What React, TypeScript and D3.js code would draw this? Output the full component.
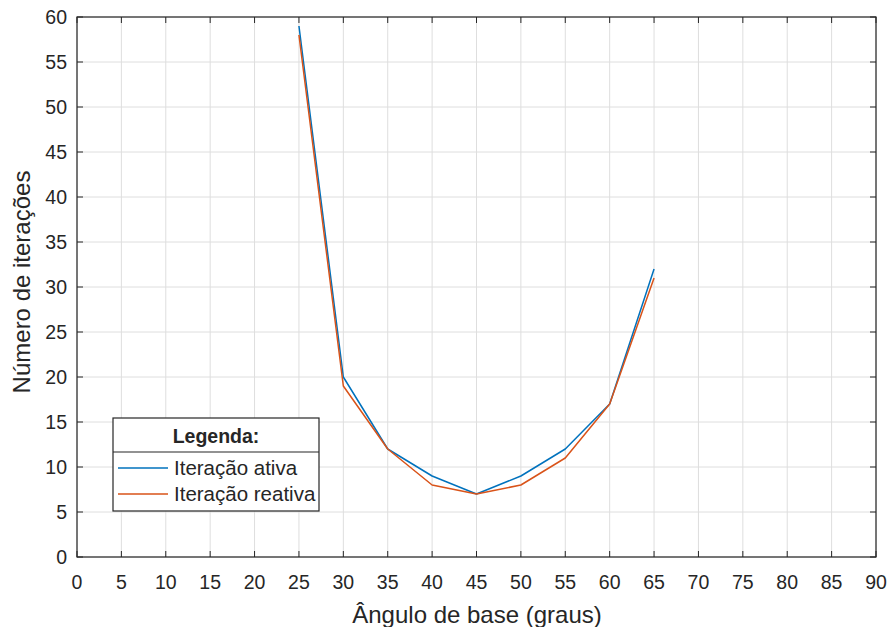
import { useMemo } from 'react';
import * as d3 from 'd3';

const angles = [25, 30, 35, 40, 45, 50, 55, 60, 65];
const activeIterations = [59, 20, 12, 9, 7, 9, 12, 17, 32];
const reactiveIterations = [58, 19, 12, 8, 7, 8, 11, 17, 31];
const xTicks = d3.range(0, 91, 5);
const yTicks = d3.range(0, 61, 5);

const WIDTH = 889;
const HEIGHT = 627;
const M = { left: 77, right: 13, top: 17, bottom: 70 };
const FONT = '"Liberation Sans", Arial, Helvetica, sans-serif';
const AXIS = '#262626';
const GRID = '#dedede';
const BLUE = '#0072BD';
const ORANGE = '#D95319';

export default function App() {
  const x = useMemo(
    () => d3.scaleLinear().domain([0, 90]).range([M.left, WIDTH - M.right]),
    [],
  );
  const y = useMemo(
    () => d3.scaleLinear().domain([0, 60]).range([HEIGHT - M.bottom, M.top]),
    [],
  );

  const line = d3
    .line<number>()
    .x((_, i) => x(angles[i]))
    .y((v) => y(v));

  const [x0, x1] = x.range();
  const [y0, y1] = y.range();
  const tick = 6;

  const series = [
    { name: 'Iteração ativa', values: activeIterations, color: BLUE },
    { name: 'Iteração reativa', values: reactiveIterations, color: ORANGE },
  ];

  // legend box
  const lgX = 113;
  const lgY = 418;
  const lgW = 206;
  const lgH = 93;
  const lgSep = 34;

  return (
    <svg
      width={WIDTH}
      height={HEIGHT}
      style={{ position: 'absolute', left: 0, top: 0, background: '#fff' }}
      fontFamily={FONT}
    >
      <rect x={x0} y={y1} width={x1 - x0} height={y0 - y1} fill="#fff" />
      {/* grid */}
      {xTicks.map((t) => (
        <line key={`gx${t}`} x1={x(t)} x2={x(t)} y1={y0} y2={y1} stroke={GRID} strokeWidth={1} />
      ))}
      {yTicks.map((t) => (
        <line key={`gy${t}`} x1={x0} x2={x1} y1={y(t)} y2={y(t)} stroke={GRID} strokeWidth={1} />
      ))}

      {/* series */}
      {series.map((s) => (
        <path
          key={s.name}
          d={line(s.values) ?? ''}
          fill="none"
          stroke={s.color}
          strokeWidth={1.5}
          strokeLinejoin="round"
        />
      ))}

      {/* ticks (box on, inward) */}
      {xTicks.map((t) => (
        <g key={`tx${t}`} stroke={AXIS}>
          <line x1={x(t)} x2={x(t)} y1={y0} y2={y0 - tick} />
          <line x1={x(t)} x2={x(t)} y1={y1} y2={y1 + tick} />
        </g>
      ))}
      {yTicks.map((t) => (
        <g key={`ty${t}`} stroke={AXIS}>
          <line x1={x0} x2={x0 + tick} y1={y(t)} y2={y(t)} />
          <line x1={x1} x2={x1 - tick} y1={y(t)} y2={y(t)} />
        </g>
      ))}
      <rect x={x0} y={y1} width={x1 - x0} height={y0 - y1} fill="none" stroke={AXIS} strokeWidth={1.2} />

      {/* tick labels */}
      {xTicks.map((t) => (
        <text key={`lx${t}`} x={x(t)} y={y0 + 32} textAnchor="middle" fontSize={19.5} fill={AXIS}>
          {t}
        </text>
      ))}
      {yTicks.map((t) => (
        <text key={`ly${t}`} x={x0 - 10} y={y(t) + 7} textAnchor="end" fontSize={19.5} fill={AXIS}>
          {t}
        </text>
      ))}

      {/* axis titles */}
      <text x={(x0 + x1) / 2 + 0.5} y={y0 + 66} textAnchor="middle" fontSize={24} fill={AXIS}>
        Ângulo de base (graus)
      </text>
      <text
        transform={`translate(${30},${(y0 + y1) / 2 - 5}) rotate(-90)`}
        textAnchor="middle"
        fontSize={24}
        fill={AXIS}
      >
        Número de iterações
      </text>

      {/* legend */}
      <g>
        <rect x={lgX} y={lgY} width={lgW} height={lgH} fill="#fff" stroke={AXIS} strokeWidth={1.2} />
        <line x1={lgX} x2={lgX + lgW} y1={lgY + lgSep} y2={lgY + lgSep} stroke={AXIS} strokeWidth={1.2} />
        <text x={lgX + lgW / 2} y={lgY + 25} textAnchor="middle" fontSize={19.5} fontWeight="bold" fill={AXIS}>
          Legenda:
        </text>
        {series.map((s, i) => {
          const cy = lgY + lgSep + 16 + i * 26;
          return (
            <g key={`lg${s.name}`}>
              <line x1={lgX + 5} x2={lgX + 55} y1={cy} y2={cy} stroke={s.color} strokeWidth={1.5} />
              <text x={lgX + 61} y={cy + 7} fontSize={20.5} fill={AXIS}>
                {s.name}
              </text>
            </g>
          );
        })}
      </g>
    </svg>
  );
}
